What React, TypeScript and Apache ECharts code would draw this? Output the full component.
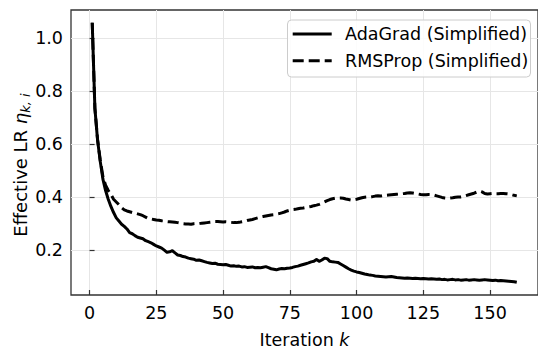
import React, { useEffect, useRef } from "react";
import * as echarts from "echarts";

const adagrad: number[] = [
  1.058, 0.735, 0.615, 0.535, 0.468, 0.425, 0.392, 0.365, 0.342, 0.322,
  0.31, 0.298, 0.29, 0.28, 0.266, 0.262, 0.255, 0.249, 0.246, 0.243,
  0.236, 0.232, 0.228, 0.222, 0.216, 0.212, 0.208, 0.2, 0.192, 0.194,
  0.198, 0.19, 0.182, 0.18, 0.176, 0.174, 0.17, 0.168, 0.166, 0.162,
  0.163, 0.16, 0.157, 0.154, 0.152, 0.15, 0.151, 0.147, 0.146, 0.145,
  0.146, 0.143, 0.14, 0.141, 0.139, 0.14, 0.137, 0.138, 0.135, 0.136,
  0.137, 0.134, 0.135, 0.134, 0.136, 0.138, 0.134, 0.13, 0.128, 0.126,
  0.129, 0.131, 0.13, 0.132, 0.133, 0.135, 0.138, 0.14, 0.143, 0.146,
  0.149, 0.152, 0.156, 0.158, 0.165, 0.158, 0.163, 0.17, 0.168, 0.158,
  0.156, 0.155, 0.154, 0.148, 0.142, 0.136, 0.13, 0.125, 0.121, 0.118,
  0.116, 0.113, 0.11, 0.108, 0.106, 0.105, 0.103, 0.102, 0.101, 0.1,
  0.099, 0.1, 0.101, 0.099, 0.097, 0.096, 0.095, 0.094, 0.095, 0.094,
  0.093, 0.094, 0.093, 0.092, 0.093, 0.092, 0.091, 0.092, 0.091, 0.09,
  0.091, 0.089, 0.09, 0.088, 0.089, 0.09, 0.088, 0.089, 0.087, 0.088,
  0.089, 0.087, 0.088, 0.089, 0.088, 0.087, 0.088, 0.089, 0.088, 0.087,
  0.086, 0.087, 0.085, 0.086, 0.085, 0.084, 0.083, 0.082, 0.081, 0.079,
];

const rmsprop: number[] = [
  1.058, 0.735, 0.618, 0.54, 0.478, 0.445, 0.425, 0.41, 0.392, 0.382,
  0.372, 0.36, 0.352, 0.348, 0.345, 0.342, 0.34, 0.337, 0.334, 0.33,
  0.325, 0.32, 0.318, 0.316, 0.314, 0.313, 0.311, 0.31, 0.308, 0.307,
  0.306, 0.305, 0.304, 0.302, 0.3, 0.299, 0.299, 0.298, 0.3, 0.301,
  0.3, 0.302, 0.303, 0.304, 0.305, 0.306, 0.308, 0.308, 0.307, 0.306,
  0.307, 0.306, 0.305, 0.304, 0.304, 0.305, 0.307, 0.309, 0.312, 0.314,
  0.316, 0.319, 0.322, 0.325, 0.327, 0.329, 0.331, 0.333, 0.334, 0.336,
  0.338, 0.341, 0.344, 0.348, 0.351, 0.353, 0.354, 0.356, 0.358, 0.359,
  0.361, 0.363, 0.365, 0.368, 0.37, 0.373, 0.377, 0.382, 0.387, 0.391,
  0.394, 0.396, 0.397, 0.397, 0.396, 0.393, 0.391, 0.389, 0.39, 0.392,
  0.395, 0.398, 0.4, 0.401, 0.4, 0.402, 0.404, 0.405, 0.404, 0.406,
  0.407, 0.408, 0.409, 0.41, 0.411, 0.412, 0.413, 0.414, 0.416, 0.417,
  0.416, 0.414, 0.412, 0.41, 0.409, 0.409, 0.41, 0.409, 0.408, 0.405,
  0.402, 0.399, 0.397, 0.396, 0.397, 0.398, 0.4, 0.401, 0.401, 0.403,
  0.406, 0.409, 0.412, 0.415, 0.419, 0.423, 0.42, 0.414, 0.412, 0.413,
  0.414, 0.413, 0.413, 0.414, 0.414, 0.413, 0.412, 0.41, 0.407, 0.405,
];

const xTicks: number[] = [0, 25, 50, 75, 100, 125, 150];
const yTicks: number[] = [0.2, 0.4, 0.6, 0.8, 1.0];
const seriesNames: string[] = ["AdaGrad (Simplified)", "RMSProp (Simplified)"];

const FONT = "DejaVu Sans";
const FS = 17.5;

export default function App() {
  const ref = useRef<HTMLDivElement>(null);
  useEffect(() => {
    document.body.style.margin = "0";
    if (!ref.current) return;
    const chart = echarts.init(ref.current, undefined, { renderer: "svg" });
    const axisCommon = {
      axisLine: { show: false },
      axisTick: { show: true, inside: true, length: 5, lineStyle: { color: "#333", width: 1.2 } },
      splitLine: { show: true, lineStyle: { color: "#e6e6e6", width: 1 } },
    };
    chart.setOption({
      animation: false,
      backgroundColor: "#fff",
      grid: {
        left: 71,
        top: 10,
        width: 478,
        height: 297.3,
        show: true,
        borderColor: "#333",
        borderWidth: 1.3,
        backgroundColor: "transparent",
        containLabel: false,
      },
      xAxis: {
        type: "value",
        min: -6.95,
        max: 167.95,
        ...axisCommon,
        axisTick: { ...axisCommon.axisTick, customValues: xTicks },
        axisLabel: {
          customValues: xTicks,
          margin: 9,
          color: "#000",
          fontFamily: FONT,
          fontSize: FS,
          formatter: (v: number) => String(v),
        },
        name: "{n|Iteration }{it|k}",
        nameLocation: "middle",
        nameGap: 36,
        nameTextStyle: {
          color: "#000",
          fontFamily: FONT,
          fontSize: FS,
          rich: {
            n: { fontFamily: FONT, fontSize: FS, color: "#000" },
            it: { fontFamily: FONT, fontSize: FS, fontStyle: "italic", color: "#000" },
          },
        },
      },
      yAxis: {
        type: "value",
        min: 0.031,
        max: 1.106,
        ...axisCommon,
        axisTick: { ...axisCommon.axisTick, customValues: yTicks },
        axisLabel: {
          customValues: yTicks,
          margin: 8,
          color: "#000",
          fontFamily: FONT,
          fontSize: FS,
          formatter: (v: number) => v.toFixed(1),
        },
      },
      series: [
        {
          name: seriesNames[0],
          type: "line",
          data: adagrad.map((v, i) => [i + 1, v]),
          showSymbol: false,
          symbol: "none",
          lineStyle: { color: "#000", width: 3, cap: "butt", join: "round" },
          z: 3,
        },
        {
          name: seriesNames[1],
          type: "line",
          data: rmsprop.map((v, i) => [i + 1, v]),
          showSymbol: false,
          symbol: "none",
          lineStyle: { color: "#000", width: 3, type: [11, 5], cap: "butt", join: "round" },
          z: 4,
        },
      ],
      graphic: [
        {
          type: "text",
          z: 50,
          x: 20,
          y: 165,
          rotation: Math.PI / 2,
          style: {
            text: "{n|Effective LR }{it|η}{sub|k, i}",
            align: "center",
            verticalAlign: "middle",
            fill: "#000",
            font: `18px "${FONT}"`,
            rich: {
              n: { fontFamily: FONT, fontSize: 18, lineHeight: 24, fill: "#000", verticalAlign: "middle" },
              it: { fontFamily: FONT, fontSize: 18, lineHeight: 24, fontStyle: "italic", fill: "#000", verticalAlign: "middle" },
              sub: { fontFamily: FONT, fontSize: 13, lineHeight: 24, fontStyle: "italic", fill: "#000", verticalAlign: "bottom" },
            },
          },
        },
        {
          type: "rect",
          z: 100,
          shape: { x: 287.5, y: 20, width: 243, height: 57, r: 4 },
          style: { fill: "rgba(255,255,255,0.85)", stroke: "#cccccc", lineWidth: 1 },
        },
        {
          type: "line",
          z: 101,
          shape: { x1: 292.7, y1: 34, x2: 331.7, y2: 34 },
          style: { stroke: "#000", lineWidth: 3 },
        },
        {
          type: "text",
          z: 101,
          x: 345,
          y: 34,
          style: { text: seriesNames[0], fill: "#000", font: `${FS}px "${FONT}"`, verticalAlign: "middle", align: "left" },
        },
        {
          type: "line",
          z: 101,
          shape: { x1: 292.7, y1: 60.7, x2: 331.7, y2: 60.7 },
          style: { stroke: "#000", lineWidth: 3, lineDash: [11, 5] },
        },
        {
          type: "text",
          z: 101,
          x: 345,
          y: 60.7,
          style: { text: seriesNames[1], fill: "#000", font: `${FS}px "${FONT}"`, verticalAlign: "middle", align: "left" },
        },
      ],
    });
    return () => chart.dispose();
  }, []);
  return <div ref={ref} style={{ width: 538, height: 354 }} />;
}
